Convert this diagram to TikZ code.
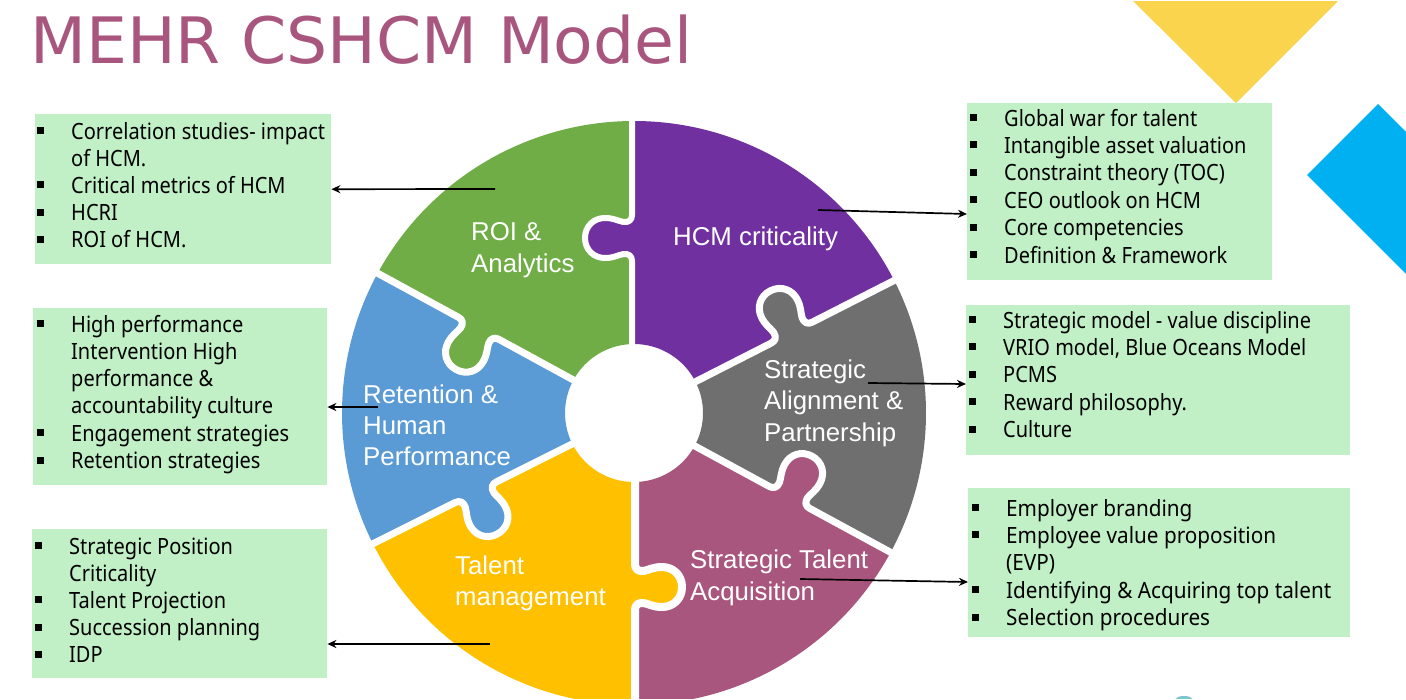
\documentclass[tikz,border=0pt]{standalone}
\usepackage{fontspec}
\setmainfont{Liberation Sans}
\newfontfamily\tah[FakeStretch=0.893]{Noto Sans}
\newfontfamily\tahw[FakeStretch=0.925]{Noto Sans}
\newfontfamily\tahb[FakeStretch=1.012]{DejaVu Sans}
\usetikzlibrary{arrows.meta}
\definecolor{cPurple}{HTML}{7030A0}
\definecolor{cGreen}{HTML}{70AD47}
\definecolor{cBlue}{HTML}{5B9BD5}
\definecolor{cGold}{HTML}{FFC000}
\definecolor{cMauve}{HTML}{A9567F}
\definecolor{cGray}{HTML}{6F6F6F}
\definecolor{cBox}{HTML}{C1F0C6}
\definecolor{cTri}{HTML}{F9D44C}
\definecolor{cDia}{HTML}{00B0F0}
\definecolor{cTeal}{HTML}{7CC4CE}
\tikzset{
  greenbox/.style={fill=cBox,draw=none,inner sep=0pt,anchor=north west},
  listtext/.style={anchor=base west,inner sep=0pt,text=black},
  wheellabel/.style={anchor=base west,inner sep=0pt,text=white,font=\fontsize{25.8pt}{31pt}\selectfont},
  pointer/.style={draw=black,line width=1.7pt,-{Stealth[length=9pt,width=8pt]}},
}
\newcommand{\bl}[1]{\hbox{\llap{\rule[5pt]{7pt}{7pt}\hspace{27.5pt}}#1}}
\newcommand{\cl}[1]{\hbox{#1}}
\newcommand{\lst}[3][\tah]{\vtop{#1\fontsize{22.4pt}{27pt}\selectfont\baselineskip=#2pt\lineskiplimit=-100pt\relax #3}}
\newcommand{\sectorfill}[3]{%
  \fill[#3] ([shift={(634,-413)}]#1:292pt) arc[start angle=#1,end angle=#2,radius=292pt]
    -- ([shift={(634,-413)}]#2:69pt) arc[start angle=#2,end angle=#1,radius=69pt] -- cycle;}
\newcommand{\tabcurve}{(-23,0) .. controls (-18,0) and (-15.5,3) .. (-16,8.5)
    .. controls (-17,14) and (-20,18) .. (-20,27)
    .. controls (-20,38) and (-12,47) .. (0,47)
    .. controls (12,47) and (20,38) .. (20,27)
    .. controls (20,18) and (17,14) .. (16,8.5)
    .. controls (15.5,3) and (18,0) .. (23,0)}
% #1 centre x, #2 angle, #3 radius, #4 colour, #5 gap width
\newcommand{\seam}[5]{%
  \begin{scope}[shift={(#1,-413)},rotate=#2,xshift=#3pt]
    \fill[#4] \tabcurve -- (23,-5) -- (-23,-5) -- cycle;
    \draw[white,line width=#5pt,line join=round] (-115,0) -- \tabcurve -- (122,0);
  \end{scope}}
\begin{document}
\begin{tikzpicture}[x=1pt,y=1pt]
\useasboundingbox (0,0) rectangle (1406,-699);
\fill[white] (0,0) rectangle (1406,-699);
\begin{scope}
\clip (0,0) rectangle (1406,-698);
\fill[cTri] (1133,-1) -- (1338,-1) -- (1236,-103) -- cycle;
\fill[cDia] (1307,-175) -- (1378,-104) -- (1520,-246) -- (1449,-317) -- cycle;
\fill[cTeal] (1184,-699) ellipse[x radius=8,y radius=3];
\sectorfill{27}{90}{cPurple}
\sectorfill{-28.5}{27}{cGray}
\sectorfill{-90}{-28.5}{cMauve}
\sectorfill{-153.4}{-90}{cGold}
\sectorfill{151.4}{206.6}{cBlue}
\sectorfill{90}{151.4}{cGreen}
\seam{632}{90}{175}{cPurple}{6}
\seam{634}{27}{177}{cGray}{7}
\seam{634}{-28.5}{177}{cMauve}{7}
\seam{635}{-90}{174}{cGold}{8}
\seam{634}{206.6}{177}{cBlue}{7}
\seam{634}{151.4}{177}{cGreen}{7}
\end{scope}

\node[anchor=base west,inner sep=0pt,text=cMauve,font=\tahb\fontsize{64pt}{70pt}\selectfont] (title) at (30,-63) {MEHR CSHCM Model};

\node[greenbox,minimum width=296pt,minimum height=150pt] (b1) at (35,-114) {};
\node[greenbox,minimum width=305pt,minimum height=177pt] (b2) at (967,-103) {};
\node[greenbox,minimum width=384pt,minimum height=150pt] (b3) at (966,-305) {};
\node[greenbox,minimum width=382pt,minimum height=149pt] (b4) at (968,-488) {};
\node[greenbox,minimum width=294pt,minimum height=177pt] (b5) at (33,-308) {};
\node[greenbox,minimum width=295pt,minimum height=149pt] (b6) at (32,-529) {};

\node[listtext] (t1) at (71,-139) {\lst{27.2}{\bl{Correlation studies- impact}\cl{of HCM.}\bl{Critical metrics of HCM}\bl{HCRI}\bl{ROI of HCM.}}};
\node[listtext] (t2) at (1004,-126) {\lst{27.4}{\bl{Global war for talent}\bl{Intangible asset valuation}\bl{Constraint theory (TOC)}\bl{CEO outlook on HCM}\bl{Core competencies}\bl{Definition \& Framework}}};
\node[listtext] (t3) at (1003,-328) {\lst{27.4}{\bl{Strategic model - value discipline}\bl{VRIO model, Blue Oceans Model}\bl{PCMS}\bl{Reward philosophy.}\bl{Culture}}};
\node[listtext] (t4) at (1006,-516) {\lst[\tahw]{27.4}{\bl{Employer branding}\bl{Employee value proposition}\cl{(EVP)}\bl{Identifying \& Acquiring top talent}\bl{Selection procedures}}};
\node[listtext] (t5) at (71,-332) {\lst{27.3}{\bl{High performance}\cl{Intervention High}\cl{performance \&}\cl{accountability culture}\bl{Engagement strategies}\bl{Retention strategies}}};
\node[listtext] (t6) at (69,-554) {\lst{27.2}{\bl{Strategic Position}\cl{Criticality}\bl{Talent Projection}\bl{Succession planning}\bl{IDP}}};

\node[wheellabel] (w1) at (673,-245) {HCM criticality};
\node[wheellabel] (w2a) at (471,-240) {ROI \&};
\node[wheellabel] (w2b) at (471,-272.5) {Analytics};
\node[wheellabel] (w3a) at (363,-403) {Retention \&};
\node[wheellabel] (w3b) at (363,-434) {Human};
\node[wheellabel] (w3c) at (363,-465) {Performance};
\node[wheellabel] (w4a) at (455,-574) {Talent};
\node[wheellabel] (w4b) at (455,-605) {management};
\node[wheellabel] (w5a) at (764,-378) {Strategic};
\node[wheellabel] (w5b) at (764,-409) {Alignment \&};
\node[wheellabel] (w5c) at (764,-441) {Partnership};
\node[wheellabel] (w6a) at (690,-568) {Strategic Talent};
\node[wheellabel] (w6b) at (690,-600) {Acquisition};

\coordinate (s1) at (495,-189);
\coordinate (s2) at (818,-210);
\coordinate (e2) at (967,-214);
\coordinate (s3) at (868,-383);
\coordinate (e3) at (966,-384);
\coordinate (s4) at (800,-579);
\coordinate (e4) at (968,-582);
\coordinate (s5) at (378,-407);
\coordinate (s6) at (490,-644);
\draw[pointer] (s1) -- (b1.east);
\draw[pointer] (s2) -- (b2.west |- e2);
\draw[pointer] (s3) -- (b3.west |- e3);
\draw[pointer] (s4) -- (b4.west |- e4);
\draw[pointer] (s5) -- (b5.east |- s5);
\draw[pointer] (s6) -- (b6.east |- s6);
\end{tikzpicture}
\end{document}
